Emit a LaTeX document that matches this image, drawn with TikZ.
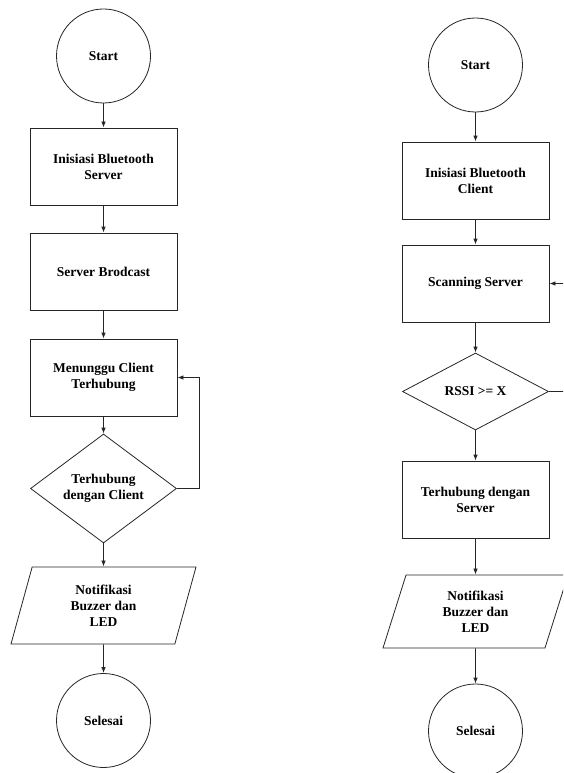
\documentclass[tikz,border=0pt]{standalone}
\usepackage{fontspec}
\setmainfont{Liberation Serif}
\usetikzlibrary{shapes.geometric,arrows.meta}
\begin{document}
\begin{tikzpicture}[x=1pt,y=-1pt,
  base/.style={draw=black!85,line width=0.8pt,font=\fontsize{13.5}{16}\selectfont\bfseries,align=center,inner sep=0pt},
  term/.style={base,circle,minimum size=94pt},
  proc/.style={base,rectangle,minimum width=147pt,minimum height=77pt},
  dec/.style={base,diamond,minimum width=146pt},
  io/.style={base,trapezium,trapezium left angle=63,trapezium right angle=117,trapezium stretches body,minimum width=185pt},
  arr/.style={draw=black!85,line width=0.8pt,-{Latex[length=6pt,width=4.5pt]}},
  ln/.style={draw=black!85,line width=0.8pt}]
\path[use as bounding box,clip] (0,0) rectangle (563,773);
\fill[white] (0,0) rectangle (563,773);
% left flowchart
\node[term] (s1) at (103.5,56) {Start};
\node[proc] (a1) at (103.5,166.5) {Inisiasi Bluetooth\\Server};
\node[proc] (a2) at (103.5,271.5) {Server Brodcast};
\node[proc] (a3) at (103.5,377.5) {Menunggu Client\\Terhubung};
\node[dec,minimum height=93pt] (d1) at (103.5,488.5) {Terhubung\\dengan Client};
\node[io,minimum height=77pt] (p1) at (103.5,605.5) {Notifikasi\\Buzzer dan\\LED};
\node[term] (e1) at (103.5,720.5) {Selesai};
\draw[arr] (s1) -- (a1);
\draw[arr] (a1) -- (a2);
\draw[arr] (a2) -- (a3);
\draw[arr] (a3) -- (d1);
\draw[arr] (d1) -- (p1);
\draw[arr] (p1) -- (e1);
\draw[arr] (d1.east) -- ++(22,0) |- (a3.east);
% right flowchart
\node[term] (s2) at (475.5,65) {Start};
\node[proc] (b1) at (475.5,180.5) {Inisiasi Bluetooth\\Client};
\node[proc] (b2) at (475.5,283.5) {Scanning Server};
\node[dec,minimum height=77pt] (d2) at (475.5,391.5) {RSSI >= X};
\node[proc] (b3) at (475.5,499.5) {Terhubung dengan\\Server};
\node[io,minimum height=73pt,trapezium left angle=61,trapezium right angle=119] (p2) at (475.5,611.5) {Notifikasi\\Buzzer dan\\LED};
\node[term] (e2) at (475.5,731) {Selesai};
\draw[arr] (s2) -- (b1);
\draw[arr] (b1) -- (b2);
\draw[arr] (b2) -- (d2);
\draw[arr] (d2) -- (b3);
\draw[arr] (b3) -- (p2);
\draw[arr] (p2) -- (e2);
\draw[arr] (d2.east) -- ++(25,0) |- (b2.east);
\end{tikzpicture}
\end{document}
